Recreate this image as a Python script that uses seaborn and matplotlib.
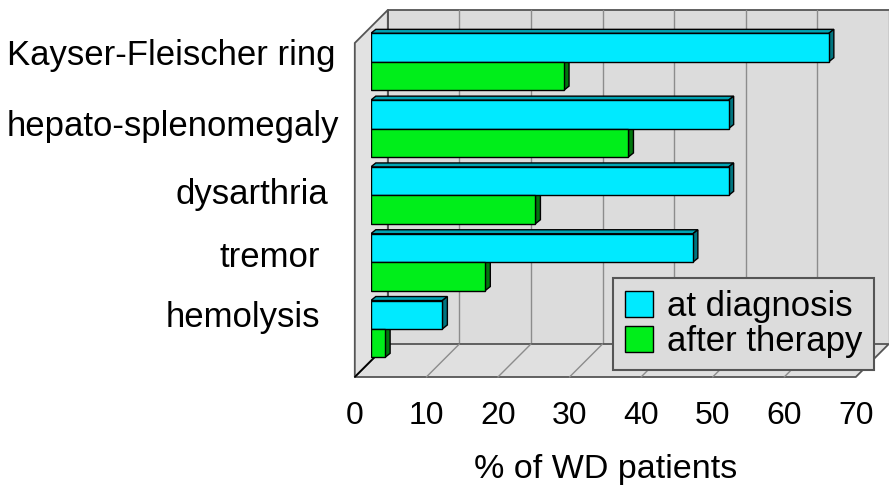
import numpy as np
import pandas as pd
import seaborn as sns
import matplotlib.pyplot as plt
from matplotlib.patches import Polygon, Patch
from matplotlib.lines import Line2D
from matplotlib.transforms import offset_copy

# data
symptoms = ["Kayser-Fleischer ring", "hepato-splenomegaly", "dysarthria", "tremor", "hemolysis"]
at_diagnosis = [64, 50, 50, 45, 10]
after_therapy = [27, 36, 23, 16, 2]
series = ["at diagnosis", "after therapy"]
xticks = [0, 10, 20, 30, 40, 50, 60, 70]

df = pd.DataFrame({
    "symptom": symptoms * 2,
    "percent": at_diagnosis + after_therapy,
    "when": [series[0]] * len(symptoms) + [series[1]] * len(symptoms),
})

sns.set_style("white")
plt.rcParams["font.family"] = ["Liberation Sans", "DejaVu Sans"]
plt.rcParams["text.color"] = "black"
plt.rcParams["axes.labelcolor"] = "black"
plt.rcParams["xtick.labelcolor"] = "black"
plt.rcParams["ytick.labelcolor"] = "black"

CYAN = "#00EAFF"
GREEN = "#00EE1A"
WALL = "#DCDCDC"
EDGE = "#555555"
GRID = "#8C8C8C"

# pseudo-3D: bar plane sits in the middle, front and back planes shifted (pixels)
FRONT = np.array([-16.0, -16.0])
BACK = np.array([17.0, 17.0])
BAR_DEPTH = np.array([5.0, 4.0])

fig = plt.figure(figsize=(8.89, 4.90), dpi=100)
ax = fig.add_axes([370.8 / 889, 1 - 361 / 490, 501 / 889, 334 / 490])

sns.barplot(data=df, x="percent", y="symptom", hue="when", orient="h",
            palette=[CYAN, GREEN], saturation=1, width=0.85, edgecolor="black",
            linewidth=1, legend=False, ax=ax)
ax.set_xlim(0, 70)
ax.set_ylim(4.48, -0.52)


def depth(x, y, off):
    disp = ax.get_xaxis_transform().transform((x, y)) + off
    return ax.transAxes.inverted().transform(disp)


def poly(pts, **kw):
    ax.add_patch(Polygon(pts, closed=True, transform=ax.transAxes, clip_on=False, **kw))


def line(p, q, **kw):
    ax.add_line(Line2D([p[0], q[0]], [p[1], q[1]], transform=ax.transAxes, clip_on=False, **kw))


# back wall, left wall, floor
poly([depth(0, 0, BACK), depth(0, 1, BACK), depth(71, 1, BACK), depth(71, 0, BACK)],
     facecolor=WALL, edgecolor="none", zorder=0.1)
line(depth(0, 1, BACK), depth(71, 1, BACK), color=EDGE, lw=1.3, zorder=0.2)
line(depth(0, 0, BACK), depth(0, 1, BACK), color=EDGE, lw=1.3, zorder=0.2)
for v in xticks[1:]:
    line(depth(v, 0, BACK), depth(v, 1, BACK), color=GRID, lw=1, zorder=0.2)

poly([depth(0, 0, FRONT), depth(0, 1, FRONT), depth(0, 1, BACK), depth(0, 0, BACK)],
     facecolor="#E2E2E2", edgecolor=EDGE, lw=1.3, zorder=0.3)
poly([depth(0, 0, FRONT), depth(70, 0, FRONT), depth(70, 0, BACK), depth(0, 0, BACK)],
     facecolor="#E0E0E0", edgecolor=EDGE, lw=1.3, zorder=0.3)
for v in xticks[1:-1]:
    line(depth(v, 0, FRONT), depth(v, 0, BACK), color=GRID, lw=1, zorder=0.4)
line(depth(0, 0, FRONT), depth(0, 0, BACK), color="black", lw=1.2, zorder=0.4)

# top and side faces of each bar, built from the bar rectangles
to_data = ax.transData.inverted()
for bar in list(ax.patches):
    if not hasattr(bar, "get_width") or bar.get_width() <= 0:
        continue
    x0, y0 = bar.get_x(), bar.get_y()
    x1, y1 = x0 + bar.get_width(), y0 + bar.get_height()
    # display coordinates (y up): data y1 is the lower edge on an inverted axis
    bl = ax.transData.transform((x0, y1))
    tr = ax.transData.transform((x1, y0))
    tl = np.array([bl[0], tr[1]])
    br = np.array([tr[0], bl[1]])
    rgb = np.array(bar.get_facecolor()[:3])
    top = [tl, tr, tr + BAR_DEPTH, tl + BAR_DEPTH]
    side = [br, tr, tr + BAR_DEPTH, br + BAR_DEPTH]
    ax.add_patch(Polygon(to_data.transform(np.array(top)), closed=True,
                         facecolor=rgb * 0.7, edgecolor="black", lw=1, zorder=0.9))
    ax.add_patch(Polygon(to_data.transform(np.array(side)), closed=True,
                         facecolor=rgb * 0.5, edgecolor="black", lw=1, zorder=0.9))
    bar.set_zorder(2)

# category labels, placed a little off the group centres like the original
ax.set_yticks([])
label_right = [0, -3, 8, 16, 16]
label_up = [6, 2, 1, 5, 11]
for i, name in enumerate(symptoms):
    tr_lbl = offset_copy(ax.get_yaxis_transform(), fig=fig,
                         x=-35 - label_right[i], y=label_up[i], units="dots")
    ax.text(0, i, name, transform=tr_lbl, ha="right", va="center", fontsize=25)
ax.set_xticks([])
ax.set_xlabel("")
ax.set_ylabel("")
ax.patch.set_visible(False)
for s in ax.spines.values():
    s.set_visible(False)

# front axis with ticks
axf = fig.add_axes([(370.8 + FRONT[0]) / 889, (490 - 361 + FRONT[1]) / 490, 501 / 889, 0.001])
axf.set_xlim(0, 70)
axf.set_xticks(xticks)
axf.set_yticks([])
axf.patch.set_visible(False)
for s in axf.spines.values():
    s.set_visible(False)
axf.tick_params(axis="x", length=3.6, width=0.8, color="#777777", labelcolor="black",
                labelsize=23, pad=14)
axf.set_xlabel("% of WD patients", fontsize=24.5, labelpad=16)

handles = [Patch(facecolor=CYAN, edgecolor="black"), Patch(facecolor=GREEN, edgecolor="black")]
leg = fig.legend(handles, series, loc="upper left", bbox_to_anchor=(613 / 889, 1 - 278 / 490),
                 bbox_transform=fig.transFigure, fontsize=25, frameon=True, fancybox=False,
                 borderpad=0.35, labelspacing=0.05, handletextpad=0.4, handlelength=0.8,
                 handleheight=0.78, borderaxespad=0)
leg.get_frame().set_facecolor(WALL)
leg.get_frame().set_edgecolor(EDGE)
leg.get_frame().set_linewidth(1.5)
leg.get_frame().set_alpha(1)

fig.savefig("out.png", dpi=100)
